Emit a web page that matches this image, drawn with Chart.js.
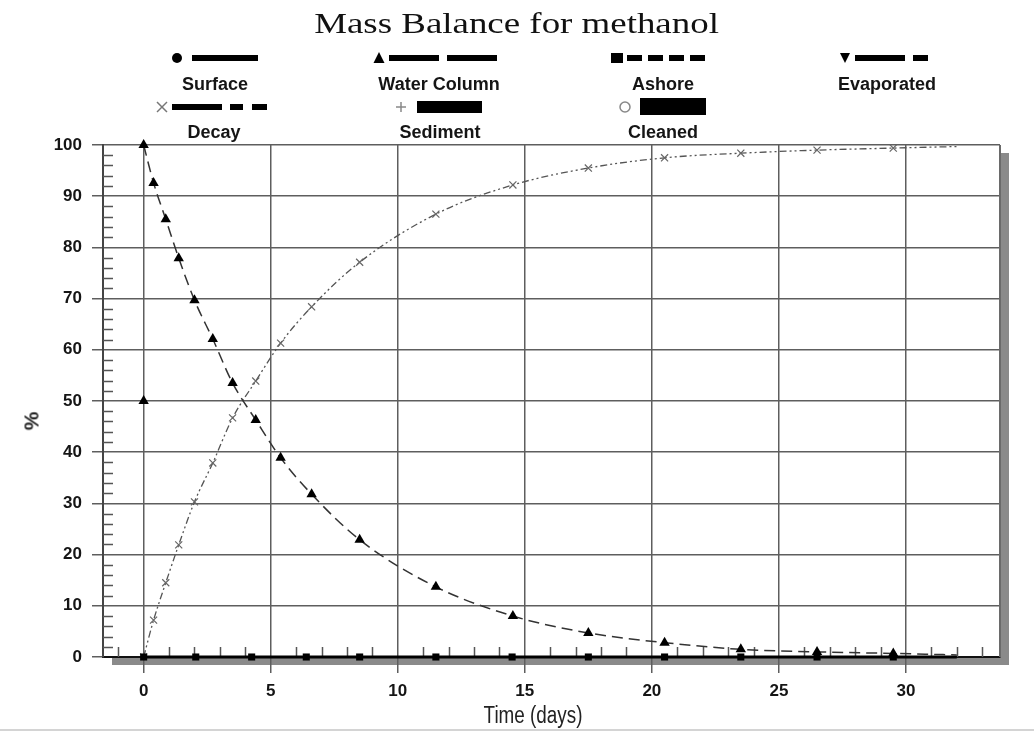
<!DOCTYPE html>
<html><head><meta charset="utf-8">
<script src="https://cdn.jsdelivr.net/npm/chart.js@4.4.1/dist/chart.umd.min.js"></script>
<style>
html,body{margin:0;padding:0;background:#fff;}
#wrap{position:relative;width:1034px;height:731px;overflow:hidden;background:#fff;}
#c{position:absolute;left:0;top:0;}
.title{position:absolute;left:0;top:8px;width:1034px;text-align:center;font-family:"Liberation Serif","Times New Roman",serif;font-size:30px;line-height:30px;color:#111;}
.title span{display:inline-block;transform:scaleX(1.23);}
.lab{position:absolute;font-family:"Liberation Sans",Arial,sans-serif;font-weight:bold;font-size:18px;line-height:18px;color:#151515;transform:translateX(-50%);white-space:nowrap;}
.ylab{position:absolute;left:31px;top:421px;font-family:"Liberation Sans",Arial,sans-serif;font-weight:bold;font-size:21px;line-height:21px;color:#222;transform:translate(-50%,-50%) rotate(-90deg);}
.xlab{position:absolute;left:533px;top:704px;font-family:"Liberation Sans",Arial,sans-serif;font-size:23px;line-height:23px;color:#222;transform:translateX(-50%) scaleX(0.82);white-space:nowrap;}
#legsvg{position:absolute;left:0;top:0;}
.bottomline{position:absolute;left:0;top:729px;width:1034px;height:2px;background:#d4d4d4;}
</style></head>
<body>
<div id="wrap">
  <canvas id="c" width="1034" height="731"></canvas>
  <div class="title"><span>Mass Balance for methanol</span></div>
  <svg id="legsvg" width="1034" height="150">
    <!-- Surface -->
    <circle cx="177" cy="58" r="5" fill="#000"/>
    <line x1="192" y1="58" x2="258" y2="58" stroke="#000" stroke-width="6"/>
    <!-- Water Column -->
    <polygon points="379,52 373.5,63 384.5,63" fill="#000"/>
    <line x1="389" y1="58" x2="498" y2="58" stroke="#000" stroke-width="6" stroke-dasharray="50 8"/>
    <!-- Ashore -->
    <rect x="611" y="53" width="12" height="10" fill="#000"/>
    <line x1="627" y1="58" x2="708" y2="58" stroke="#000" stroke-width="6" stroke-dasharray="15 6"/>
    <!-- Evaporated -->
    <polygon points="840,53 850,53 845,63" fill="#000"/>
    <line x1="855" y1="58" x2="928" y2="58" stroke="#000" stroke-width="6" stroke-dasharray="50 8 15 100"/>
    <!-- Decay -->
    <line x1="157" y1="102" x2="167" y2="112" stroke="#777" stroke-width="1.5"/>
    <line x1="157" y1="112" x2="167" y2="102" stroke="#777" stroke-width="1.5"/>
    <line x1="172" y1="107" x2="267" y2="107" stroke="#000" stroke-width="6" stroke-dasharray="50 8 13 9 15 100"/>
    <!-- Sediment -->
    <line x1="396" y1="107" x2="406" y2="107" stroke="#888" stroke-width="1.5"/>
    <line x1="401" y1="102" x2="401" y2="112" stroke="#888" stroke-width="1.5"/>
    <line x1="417" y1="107" x2="482" y2="107" stroke="#000" stroke-width="12"/>
    <!-- Cleaned -->
    <circle cx="625" cy="107" r="5" fill="none" stroke="#888" stroke-width="1.5"/>
    <line x1="640" y1="106.5" x2="706" y2="106.5" stroke="#000" stroke-width="17"/>
  </svg>
  <div class="ylab">%</div>
  <div class="xlab">Time (days)</div>
  <div class="bottomline"></div>
</div>
<script>
// ---- data ----
const timeSteps   = [0, 0.39, 0.87, 1.38, 2.0, 2.72, 3.5, 4.41, 5.39, 6.61, 8.5, 11.5, 14.53, 17.5, 20.5, 23.5, 26.5, 29.5, 32.0];
const waterColumn = [100, 92.6, 85.5, 77.9, 69.7, 62.1, 53.5, 46.3, 38.9, 31.8, 22.9, 13.7, 8.0, 4.7, 2.8, 1.5, 1.0, 0.7, 0.4];
const decay       = [0, 7.2, 14.5, 21.9, 30.3, 37.9, 46.7, 53.9, 61.3, 68.4, 77.1, 86.5, 92.2, 95.5, 97.5, 98.4, 99.0, 99.4, 99.7];
const ashoreTimes = [0, 2.05, 4.25, 6.4, 8.5, 11.5, 14.5, 17.5, 20.5, 23.5, 26.5, 29.5];
const ashore      = [0, 0, 0, 0, 0, 0, 0, 0, 0, 0, 0, 0];
const surfaceTimes = [0, 32];
const surface      = [0, 0];
const initialTimes = [0];
const initialWater = [50];
const seriesNames = ['Surface', 'Water Column', 'Ashore', 'Evaporated', 'Decay', 'Sediment', 'Cleaned'];
const xTickStep = 5, yTickStep = 10, xMinorStep = 1, yMinorStep = 2;

// legend labels (text)
const labelPos = [[215, 75], [439, 75], [663, 75], [887, 75], [214, 123], [440, 123], [663, 123]];
const wrap = document.getElementById('wrap');
seriesNames.forEach((n, i) => {
  const d = document.createElement('div');
  d.className = 'lab';
  d.textContent = n;
  d.style.left = labelPos[i][0] + 'px';
  d.style.top = labelPos[i][1] + 'px';
  wrap.appendChild(d);
});

const pts = (xs, ys) => xs.map((x, i) => ({x: x, y: ys[i]}));
const lastIdx = timeSteps.length - 1;

const framePlugin = {
  id: 'frame',
  beforeDraw(chart) {
    const {ctx, chartArea: a} = chart;
    ctx.save();
    ctx.fillStyle = '#8a8a8a';
    ctx.fillRect(a.left + 9, a.top + 8, a.right - a.left, a.bottom - a.top);
    ctx.fillStyle = '#fff';
    ctx.fillRect(a.left, a.top, a.right - a.left, a.bottom - a.top);
    ctx.restore();
  },
  beforeDatasetsDraw(chart) {
    const {ctx, chartArea: a, scales: {x, y}} = chart;
    ctx.save();
    ctx.strokeStyle = '#555';
    ctx.lineWidth = 1.5;
    ctx.beginPath();
    for (let v = Math.ceil(x.min); v <= x.max; v += xMinorStep) {
      if (v % xTickStep === 0) continue;
      const px = Math.round(x.getPixelForValue(v)) + 0.5;
      ctx.moveTo(px, a.bottom);
      ctx.lineTo(px, a.bottom - 10);
    }
    for (let v = 0; v <= y.max; v += yMinorStep) {
      if (v % yTickStep === 0) continue;
      const py = Math.round(y.getPixelForValue(v)) + 0.5;
      ctx.moveTo(a.left, py);
      ctx.lineTo(a.left + 10, py);
    }
    ctx.stroke();
    // right border
    ctx.strokeStyle = '#6a6a6a';
    ctx.lineWidth = 2;
    ctx.beginPath();
    ctx.moveTo(a.right, a.top);
    ctx.lineTo(a.right, a.bottom);
    ctx.stroke();
    ctx.restore();
  }
};

new Chart(document.getElementById('c'), {
  type: 'scatter',
  data: {
    datasets: [
      {
        label: 'Water Column (initial)',
        data: pts(initialTimes, initialWater),
        showLine: false,
        pointStyle: 'triangle',
        pointRadius: 6,
        backgroundColor: '#000',
        borderColor: '#000',
        borderWidth: 0
      },
      {
        label: seriesNames[1],
        data: pts(timeSteps, waterColumn),
        showLine: true,
        cubicInterpolationMode: 'monotone',
        borderColor: '#333',
        borderWidth: 1.5,
        borderDash: [11, 6],
        pointStyle: 'triangle',
        pointRadius: ctx => ctx.dataIndex === lastIdx ? 0 : 6,
        pointBackgroundColor: '#000',
        pointBorderColor: '#000',
        pointBorderWidth: 0,
        clip: 8
      },
      {
        label: seriesNames[2],
        data: pts(ashoreTimes, ashore),
        showLine: false,
        pointStyle: 'rect',
        pointRadius: 5,
        backgroundColor: '#000',
        borderColor: '#000',
        borderWidth: 0,
        clip: 8
      },
      {
        label: seriesNames[4],
        data: pts(timeSteps, decay),
        showLine: true,
        cubicInterpolationMode: 'monotone',
        borderColor: '#555',
        borderWidth: 1.3,
        borderDash: [7, 3, 2, 3, 2, 3],
        pointStyle: 'crossRot',
        pointRadius: ctx => ctx.dataIndex === lastIdx ? 0 : 5,
        pointBorderColor: '#666',
        pointBorderWidth: 1.2,
        pointBackgroundColor: '#666'
      },
      {
        label: seriesNames[0],
        data: pts(surfaceTimes, surface),
        showLine: true,
        borderColor: '#000',
        borderWidth: 3,
        pointRadius: 0,
        clip: 4
      }
    ]
  },
  options: {
    responsive: false,
    animation: false,
    devicePixelRatio: 1,
    layout: {padding: {top: 145, right: 34, left: 0, bottom: 0}},
    plugins: {legend: {display: false}, title: {display: false}, tooltip: {enabled: false}},
    scales: {
      x: {
        type: 'linear',
        min: -1.6,
        max: 33.7,
        afterFit: s => { s.height = 74; },
        ticks: {
          stepSize: xTickStep,
          includeBounds: false,
          padding: 8,
          color: '#151515',
          font: {family: '"Liberation Sans", Arial, sans-serif', size: 17, weight: 'bold'}
        },
        grid: {color: '#5e5e5e', lineWidth: 1.5, tickLength: 16, tickColor: '#5e5e5e'},
        border: {display: true, color: '#111', width: 2}
      },
      y: {
        type: 'linear',
        min: 0,
        max: 100,
        afterFit: s => { s.width = 103; },
        ticks: {
          stepSize: yTickStep,
          padding: 10,
          color: '#151515',
          font: {family: '"Liberation Sans", Arial, sans-serif', size: 17, weight: 'bold'}
        },
        grid: {color: '#5e5e5e', lineWidth: 1.5, tickLength: 11, tickColor: '#5e5e5e'},
        border: {display: true, color: '#444', width: 2}
      }
    }
  },
  plugins: [framePlugin]
});
</script>
</body></html>
